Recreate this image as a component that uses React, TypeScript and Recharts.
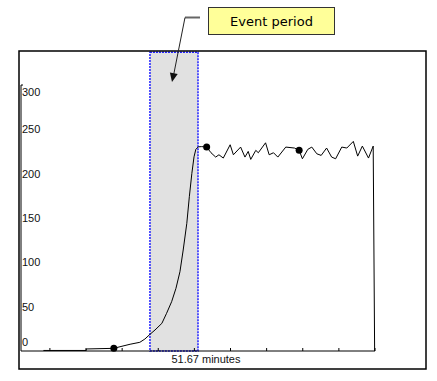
import React from "react";
import {
  ComposedChart,
  Line,
  Scatter,
  XAxis,
  YAxis,
  ReferenceArea,
  ReferenceDot,
} from "recharts";

// Curve (x in minutes, y in axis units)
const curveMinutes = [
  6.2, 18.0, 18.1, 25.7, 27.4, 30.2, 32.9, 34.3, 35.7, 37.1, 39.0, 40.3, 41.7,
  42.9, 44.0, 44.9, 45.9, 46.6, 47.3, 47.9, 48.4, 49.1, 50.0, 51.4, 52.6, 53.9,
  54.8, 56.0, 57.9, 58.8, 60.8, 62.0, 62.9, 63.6, 65.0, 65.7, 67.7, 68.7, 69.9,
  71.1, 73.3, 75.7, 77.0, 77.9, 79.4, 80.5, 81.9, 83.1, 84.6, 86.0, 87.1, 88.8,
  90.2, 92.0, 93.2, 94.5, 96.2, 97.5, 97.9,
];
const curveValues = [
  0.6, 0.6, 2.3, 3.0, 4.8, 7.6, 9.8, 13.5, 18.8, 23.7, 31.2, 42.5, 55.6, 70.7,
  89.4, 113.9, 144, 174, 200.3, 219, 227.4, 230.3, 230.5, 230.0, 223.6, 218.7,
  221.3, 217.6, 232.6, 221.3, 230.0, 218.7, 225.1, 216.1, 226.3, 223.6, 234.8,
  221.3, 223.6, 218.7, 230.0, 228.9, 226.3, 216.8, 227.4, 230.0, 222.4, 220.6,
  228.9, 218.7, 216.8, 230.0, 228.9, 236.4, 219.8, 231.1, 217.6, 231.1, 0,
];

const markerMinutes = [25.7, 51.4, 77.0];
const markerValues = [3.0, 230.0, 226.3];

const eventStart = 35.7;
const eventEnd = 49.0;
const eventTop = 337;
const durationAt = 51.2;
const durationLabel = "51.67 minutes";
const calloutText = "Event period";

const yTicks = [0, 50, 100, 150, 200, 250, 300];
const xTicks = [8, 18, 28, 38, 48, 58, 68, 78, 88, 98];

const curveData = curveMinutes.map((m, i) => ({ minute: m, value: curveValues[i] }));
const markerData = markerMinutes.map((m, i) => ({ minute: m, value: markerValues[i] }));

const PLOT_TOP = 85;
const PLOT_BOTTOM = 351;
const LABEL_FONT = "'Liberation Sans', Arial, sans-serif";

function YTick(props: any) {
  const { x, y, payload } = props;
  // labels sit just right of the axis and stay inside the plot box
  const cy = Math.min(Math.max(y, PLOT_TOP + 7), PLOT_BOTTOM - 9);
  return (
    <g>
      {payload.value === 300 && <line x1={x} x2={x + 2} y1={y} y2={y} stroke="#000" />}
      <text
        x={x + 1}
        y={cy}
        dy="0.35em"
        fontSize={11}
        fontFamily={LABEL_FONT}
        fill="#111"
        textAnchor="start"
      >
        {payload.value}
      </text>
    </g>
  );
}

function XTick(props: any) {
  const { x, y } = props;
  return <line x1={x} x2={x} y1={y} y2={y - 3} stroke="#000" />;
}

export default function App() {
  return (
    <div
      style={{
        position: "absolute",
        left: 0,
        top: 0,
        width: 437,
        height: 381,
        background: "#fff",
      }}
    >
      <ComposedChart
        width={437}
        height={381}
        data={curveData}
        margin={{ top: PLOT_TOP, right: 62, bottom: 381 - PLOT_BOTTOM - 1, left: 20 }}
      >
        <ReferenceArea
          x1={eventStart}
          x2={eventEnd}
          y1={0}
          y2={eventTop}
          ifOverflow="visible"
          fill="#e1e1e1"
          fillOpacity={1}
          stroke="#1f1fff"
          strokeWidth={1.5}
          strokeDasharray="2 1"
        />
        <XAxis
          type="number"
          dataKey="minute"
          domain={[0, 98]}
          ticks={xTicks}
          height={1}
          stroke="#000"
          tickLine={false}
          tickSize={0}
          tickMargin={0}
          tick={<XTick />}
          interval={0}
        />
        <YAxis
          type="number"
          dataKey="value"
          domain={[0, 300]}
          ticks={yTicks}
          width={1}
          stroke="#000"
          tickLine={false}
          tickSize={0}
          tickMargin={0}
          tick={<YTick />}
          interval={0}
        />
        <Line
          type="linear"
          dataKey="value"
          stroke="#000"
          strokeWidth={1}
          dot={false}
          isAnimationActive={false}
        />
        <Scatter
          data={markerData}
          dataKey="value"
          fill="#000"
          shape={(p: any) => <circle cx={p.cx} cy={p.cy} r={3.5} fill="#000" />}
          isAnimationActive={false}
        />
        <ReferenceDot
          x={durationAt}
          y={0}
          r={0}
          fill="none"
          stroke="none"
          ifOverflow="visible"
          label={{
            value: durationLabel,
            position: "bottom",
            offset: 4,
            fontSize: 11,
            fontFamily: LABEL_FONT,
            fill: "#111",
          }}
        />
      </ComposedChart>

      {/* frame and callout */}
      <svg
        width={437}
        height={381}
        style={{ position: "absolute", left: 0, top: 0, pointerEvents: "none" }}
      >
        <rect x={19} y={51} width={407} height={318} fill="none" stroke="#000" strokeWidth={1.5} />
        <rect x={208.5} y={7.5} width={126} height={27} fill="#ffff99" stroke="#333" />
        <text
          x={271.5}
          y={21}
          dy="0.35em"
          textAnchor="middle"
          fontFamily="'DejaVu Sans', Verdana, sans-serif"
          fontSize={13}
          fill="#000"
        >
          {calloutText}
        </text>
        <line x1={200} y1={17.5} x2={185} y2={17.5} stroke="#666" strokeWidth={2} />
        <line x1={185} y1={17.5} x2={173.8} y2={74} stroke="#222" strokeWidth={1} />
        <polygon points="172,82 177.7,74 169.9,72.4" fill="#111" />
      </svg>
    </div>
  );
}
